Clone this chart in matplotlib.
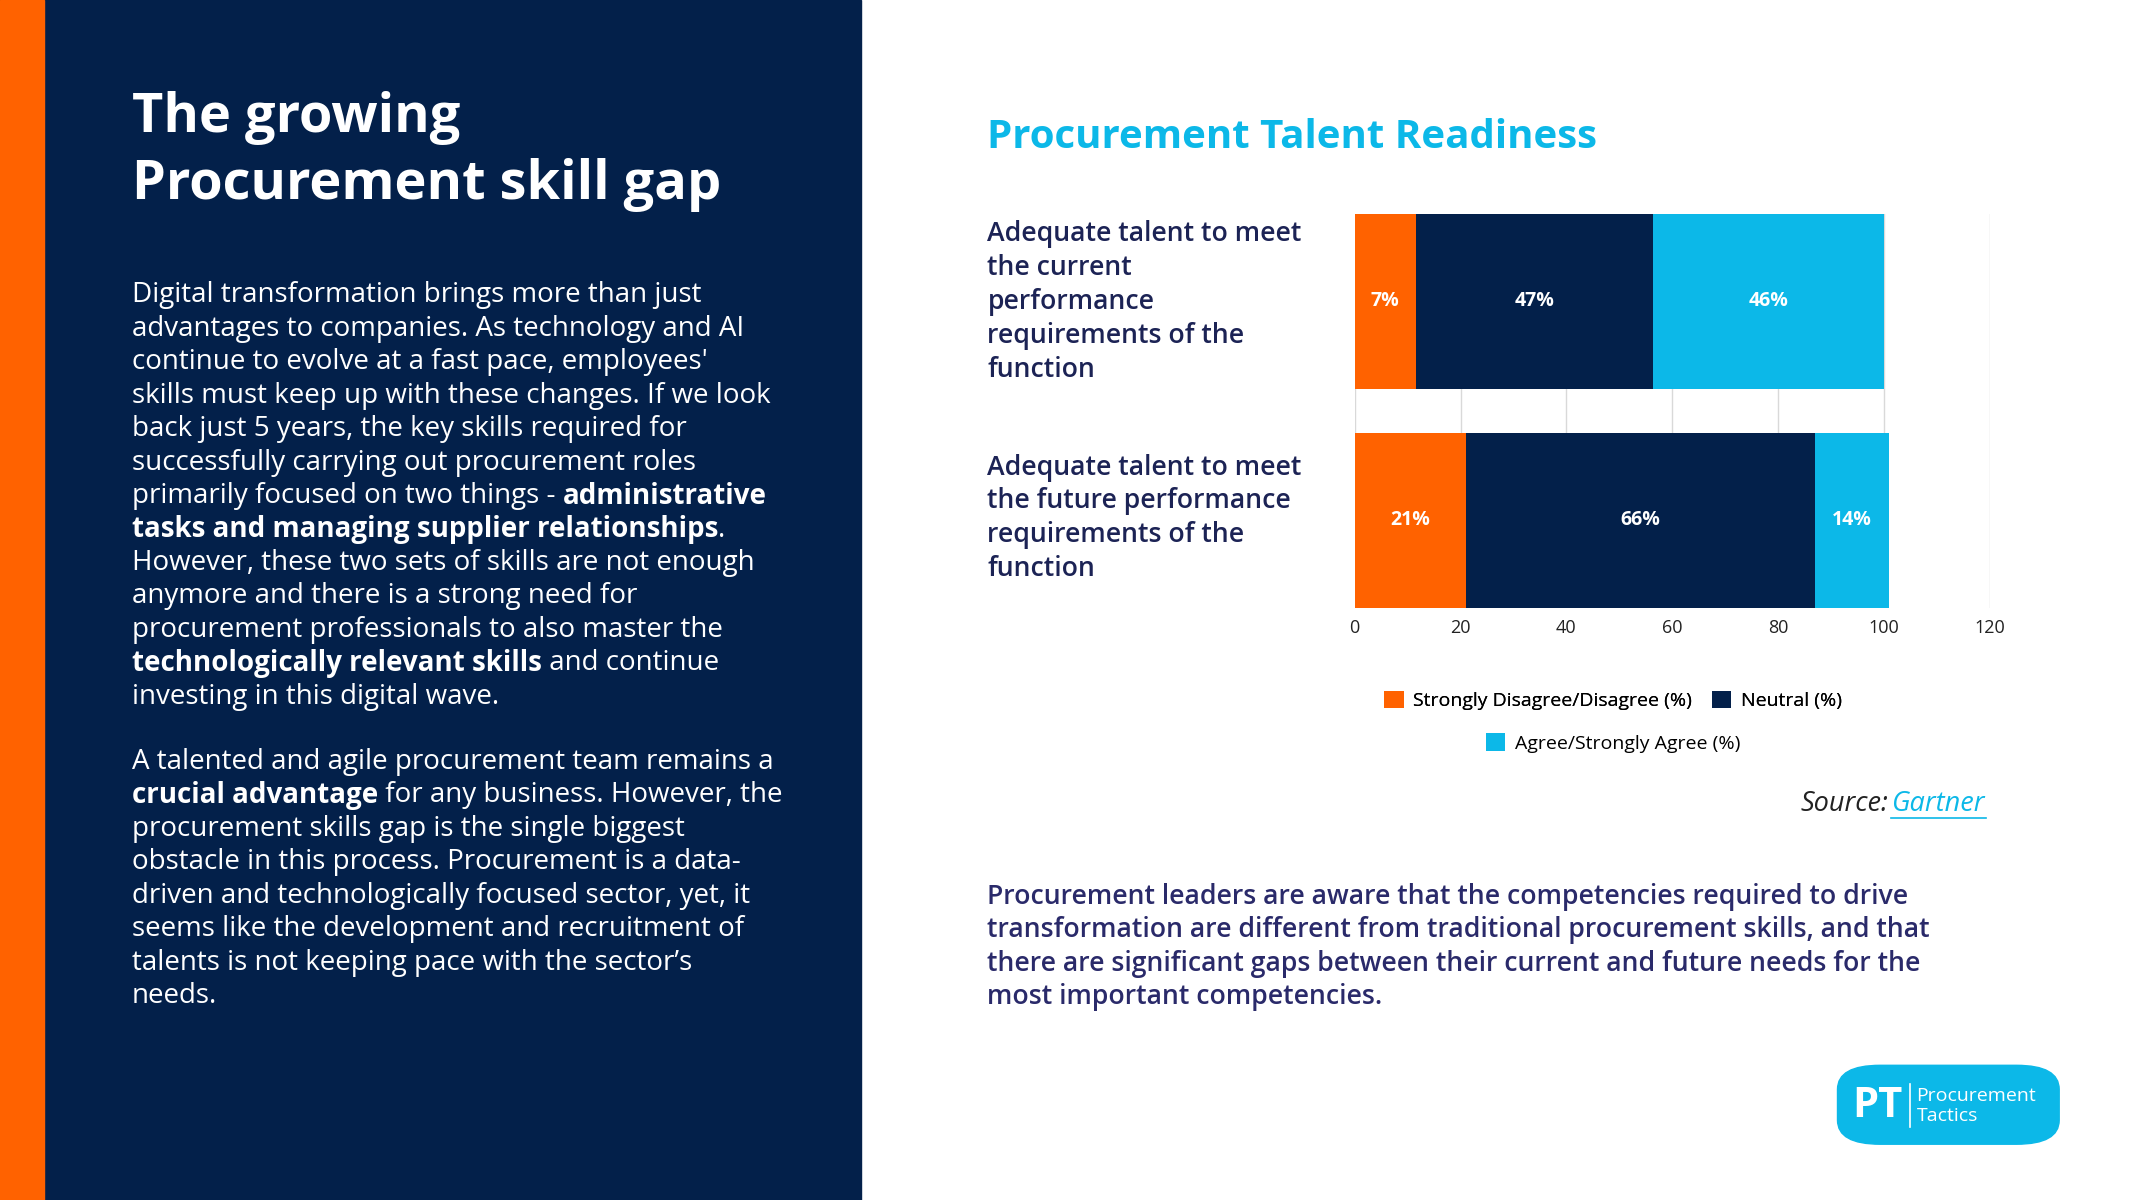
import matplotlib
matplotlib.use("Agg")
import matplotlib.pyplot as plt
from matplotlib.patches import Rectangle, FancyBboxPatch
import numpy as np

# ---------------- data ----------------
categories = ["Adequate talent to meet\nthe current\nperformance\nrequirements of the\nfunction",
              "Adequate talent to meet\nthe future performance\nrequirements of the\nfunction"]
series_names = ["Strongly Disagree/Disagree (%)", "Neutral (%)", "Agree/Strongly Agree (%)"]
disagree = [11.6, 21]
neutral = [44.8, 66]
agree = [43.6, 14]
disagree_labels = ["7%", "21%"]
neutral_labels = ["47%", "66%"]
agree_labels = ["46%", "14%"]
xticks = [0, 20, 40, 60, 80, 100, 120]

ORANGE = "#ff6200"
NAVY = "#03204a"
CYAN = "#0cb8e8"
TXT = "#1c2355"
FONT = "Open Sans"

W, H = 1569.0, 882.0
def fx(x): return x / W
def fy(y): return 1 - y / H

fig = plt.figure(figsize=(21.34, 12), dpi=100)
fig.patch.set_facecolor("white")
fig.add_artist(Rectangle((0, 0), fx(633), 1, transform=fig.transFigure, color=NAVY, zorder=0))
fig.add_artist(Rectangle((0, 0), fx(32), 1, transform=fig.transFigure, color=ORANGE, zorder=1))

# left title
fig.text(fx(97), fy(87), "The growing", color="white", fontsize=39, fontweight="bold",
         family=FONT, va="center")
fig.text(fx(97), fy(136), "Procurement skill gap", color="white", fontsize=39, fontweight="bold",
         family=FONT, va="center")

renderer = fig.canvas.get_renderer()
def seg_line(x, y, segs, color, size):
    xp = fx(x)
    for s, b in segs:
        t = fig.text(xp, fy(y), s, color=color, fontsize=size, family=FONT,
                     fontweight="bold" if b else "normal", va="center")
        bb = t.get_window_extent(renderer)
        xp += bb.width / fig.bbox.width

p1 = [[("Digital transformation brings more than just", 0)],
      [("advantages to companies. As technology and AI", 0)],
      [("continue to evolve at a fast pace, employees'", 0)],
      [("skills must keep up with these changes. If we look", 0)],
      [("back just 5 years, the key skills required for", 0)],
      [("successfully carrying out procurement roles", 0)],
      [("primarily focused on two things - ", 0), ("administrative", 1)],
      [("tasks and managing supplier relationships", 1), (".", 0)],
      [("However, these two sets of skills are not enough", 0)],
      [("anymore and there is a strong need for", 0)],
      [("procurement professionals to also master the", 0)],
      [("technologically relevant skills", 1), (" and continue", 0)],
      [("investing in this digital wave.", 0)]]
p2 = [[("A talented and agile procurement team remains a", 0)],
      [("crucial advantage", 1), (" for any business. However, the", 0)],
      [("procurement skills gap is the single biggest", 0)],
      [("obstacle in this process. Procurement is a data-", 0)],
      [("driven and technologically focused sector, yet, it", 0)],
      [("seems like the development and recruitment of", 0)],
      [("talents is not keeping pace with the sector\u2019s", 0)],
      [("needs.", 0)]]
for i, l in enumerate(p1):
    seg_line(97, 217 + i * 24.6, l, "white", 20)
for i, l in enumerate(p2):
    seg_line(97, 560 + i * 24.6, l, "white", 20)

# right title
fig.text(fx(726), fy(101), "Procurement Talent Readiness", color=CYAN, fontsize=29,
         fontweight="bold", family=FONT, va="center")

# chart
ax = fig.add_axes([fx(996), fy(447), fx(1463) - fx(996), (447 - 157) / H])
y = np.array([1, 0])
h = 0.8
b1 = ax.barh(y, disagree, height=h, color=ORANGE, label=series_names[0], zorder=3)
left2 = np.array(disagree)
b2 = ax.barh(y, neutral, left=left2, height=h, color=NAVY, label=series_names[1], zorder=3)
left3 = left2 + np.array(neutral)
b3 = ax.barh(y, agree, left=left3, height=h, color=CYAN, label=series_names[2], zorder=3)
for bars, labs in ((b1, disagree_labels), (b2, neutral_labels), (b3, agree_labels)):
    ax.bar_label(bars, labels=labs, label_type="center", color="white", fontsize=14,
                 fontweight="bold", family=FONT)
ax.set_xlim(0, 120)
ax.set_ylim(-0.4, 1.4)
ax.set_xticks(xticks)
ax.set_yticks([])
ax.grid(axis="x", color="#d9d9d9", linewidth=1, zorder=0)
for s in ax.spines.values():
    s.set_visible(False)
ax.tick_params(axis="x", length=0, labelsize=13, colors="#222222", pad=8)
for t in ax.get_xticklabels():
    t.set_family(FONT)

# category labels
fig.text(fx(726), fy(222), categories[0], color=TXT, fontsize=19.2, fontweight="semibold",
         family=FONT, va="center", linespacing=1.28)
fig.text(fx(726), fy(381), categories[1], color=TXT, fontsize=19.2, fontweight="semibold",
         family=FONT, va="center", linespacing=1.28)

# legend
lg1 = fig.legend(handles=[b1, b2], ncol=2, loc="center", bbox_to_anchor=(fx(1186), fy(515)),
                 frameon=False, prop={"family": FONT, "size": 14}, handlelength=1.0,
                 handleheight=1.0, handletextpad=0.5, columnspacing=1.0)
fig.add_artist(lg1)
fig.legend(handles=[b3], loc="center", bbox_to_anchor=(fx(1186), fy(546)),
           frameon=False, prop={"family": FONT, "size": 14}, handlelength=1.0,
           handleheight=1.0, handletextpad=0.5)

# source
fig.text(fx(1388), fy(591), "Source:", color="#222222", fontsize=19.5, fontstyle="italic",
         family=FONT, va="center", ha="right")
fig.text(fx(1390), fy(591), "Gartner", color=CYAN, fontsize=19.5, fontstyle="italic",
         family=FONT, va="center", ha="left")
fig.add_artist(plt.Line2D([fx(1390), fx(1460)], [fy(601), fy(601)], color=CYAN, lw=1.2))

# bottom paragraph
bottom = ["Procurement leaders are aware that the competencies required to drive",
          "transformation are different from traditional procurement skills, and that",
          "there are significant gaps between their current and future needs for the",
          "most important competencies."]
for i, l in enumerate(bottom):
    fig.text(fx(726), fy(659 + i * 24.6), l, color="#2a2a6a", fontsize=19.2,
             fontweight="semibold", family=FONT, va="center")

# logo
fig.add_artist(FancyBboxPatch((fx(1351), fy(841)), fx(1514) - fx(1351), (841 - 783) / H,
                              boxstyle="round,pad=0,rounding_size=0.02",
                              transform=fig.transFigure, color=CYAN,
                              mutation_aspect=W / H * 1200 / 2134))
fig.text(fx(1380), fy(813), "PT", color="white", fontsize=30, fontweight="bold",
         family=FONT, va="center", ha="center")
fig.add_artist(plt.Line2D([fx(1404), fx(1404)], [fy(797), fy(828)], color="white", lw=1.2))
fig.text(fx(1409), fy(813), "Procurement\nTactics", color="white", fontsize=14,
         family=FONT, va="center", ha="left", linespacing=1.15)

fig.savefig("out.png", dpi=100)
